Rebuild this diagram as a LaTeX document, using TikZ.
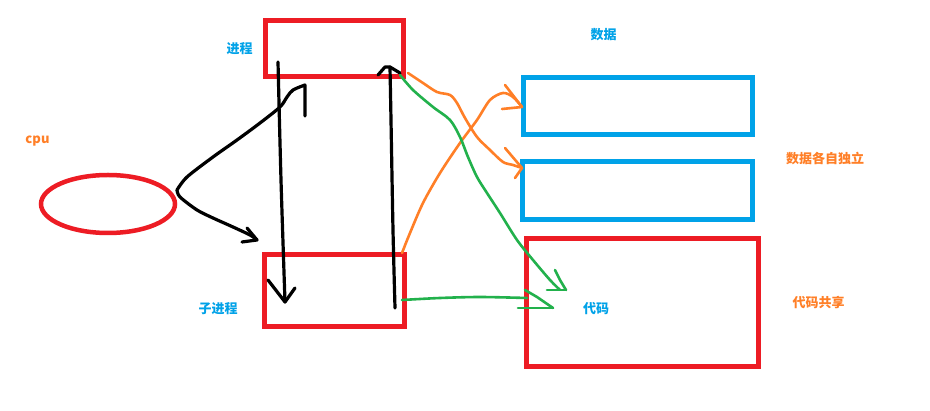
\documentclass[tikz,border=0pt]{standalone}
\usepackage{fontspec}
\setmainfont{Noto Sans CJK SC}
\usetikzlibrary{shapes.geometric}
\definecolor{pred}{RGB}{237,28,36}
\definecolor{pblue}{RGB}{0,162,232}
\definecolor{porange}{RGB}{255,127,39}
\definecolor{pgreen}{RGB}{34,177,76}
\tikzset{
  redbox/.style={draw=pred,line width=5pt,rectangle,inner sep=0pt},
  bluebox/.style={draw=pblue,line width=5pt,rectangle,inner sep=0pt},
  lbl/.style={font=\fontsize{13pt}{13pt}\selectfont\bfseries,inner sep=0pt},
  blbl/.style={lbl,text=pblue},
  olbl/.style={lbl,text=porange},
  blk/.style={draw=black,line width=3.2pt,line cap=round,line join=round},
  org/.style={draw=porange,line width=2.6pt,line cap=round,line join=round},
  grn/.style={draw=pgreen,line width=2.6pt,line cap=round,line join=round},
}
\begin{document}
\begin{tikzpicture}[x=1pt,y=-1pt]
\path[use as bounding box,fill=white] (0,0) rectangle (930,411);
% shapes
\node[ellipse,draw=pred,line width=4.5pt,minimum width=134pt,minimum height=58pt,inner sep=0pt] (cpuell) at (108,204) {};
\node[redbox,minimum width=138pt,minimum height=56pt] (proc) at (334.5,48.5) {};
\node[redbox,minimum width=140pt,minimum height=72pt] (child) at (334.5,290.5) {};
\node[bluebox,minimum width=229pt,minimum height=57pt] (data1) at (638,106) {};
\node[bluebox,minimum width=230pt,minimum height=58pt] (data2) at (637.5,190.5) {};
\node[redbox,minimum width=232pt,minimum height=128pt] (code) at (642.5,302.5) {};
% labels
\node[olbl] (tcpu) at (37.5,141) {cpu};
\node[blbl] (tproc) at (239.5,49) {进程};
\node[blbl] (tchild) at (218,309) {子进程};
\node[blbl] (tdata) at (603.5,35) {数据};
\node[olbl] (tind) at (825,158.5) {数据各自独立};
\node[olbl] (tshare) at (818.5,303) {代码共享};
\node[blbl] (tcode) at (596,309) {代码};
% coordinates
\coordinate (fork) at (177,190);
\coordinate (up1) at (305,85);
\coordinate (up2) at (305,116);
\coordinate (lowtip) at (257,240);
\coordinate (dstart) at (278,62);
\coordinate (dtip) at (285,302);
\coordinate (ustart) at (395,308);
\coordinate (utip) at (390,67);
\coordinate (o1s) at (408,73);
\coordinate (o1t) at (522,168);
\coordinate (o2s) at (402,253);
\coordinate (o2t) at (522,107);
\coordinate (g1s) at (400,75);
\coordinate (g1t) at (566,290);
\coordinate (g2s) at (402,300);
\coordinate (g2t) at (553,308);
% black: cpu to process
\draw[blk] plot[smooth,tension=0.5] coordinates {(fork) (187,177) (213,157) (237,140) (260,123) (280,107) (287,97) (293,90) (up1)} -- (up2);
% black: cpu to child
\draw[blk] plot[smooth,tension=0.5] coordinates {(fork) (180,197) (197,210) (213,218) (233,227) (250,235) (lowtip)};
\draw[blk] (247,228) -- (lowtip) -- (242,242);
% black: process down to child
\draw[blk] plot[smooth,tension=0.5] coordinates {(dstart) (281,180) (dtip)};
\draw[blk] (268,280) -- (dtip) -- (295,288);
% black: child up to process
\draw[blk] plot[smooth,tension=0.5] coordinates {(ustart) (393,230) (391,120) (utip)};
\draw[blk] (378,75) -- (385,67) -- (utip) -- (400,73);
% orange: process to data2
\draw[org] plot[smooth,tension=0.5] coordinates {(o1s) (423,83) (437,92) (450,95) (457,103) (465,118) (477,137) (490,150) (503,162) (513,165) (o1t)};
\draw[org] (505,148) -- (o1t) -- (515,178);
% orange: child to data1
\draw[org] plot[smooth,tension=0.5] coordinates {(o2s) (410,233) (423,203) (440,173) (460,143) (477,120) (490,100) (503,93) (513,97) (o2t)};
\draw[org] (505,85) -- (o2t) -- (502,109);
% green: process to code
\draw[grn] plot[smooth,tension=0.5] coordinates {(g1s) (413,90) (433,107) (450,120) (460,137) (468,157) (477,177) (487,193) (500,213) (517,240) (533,260) (550,280) (560,290)};
\draw[grn] (555,270) -- (560,280) -- (g1t);
\draw[grn] (547,290) -- (g1t);
% green: child to code
\draw[grn] plot[smooth,tension=0.5] coordinates {(g2s) (440,298) (480,297) (527,298)};
\draw[grn] (525,290) -- (537,297) -- (g2t);
\draw[grn] (518,308) -- (g2t);
\end{tikzpicture}
\end{document}
